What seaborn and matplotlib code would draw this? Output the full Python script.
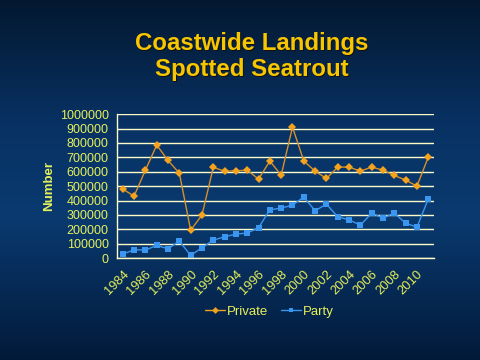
import numpy as np
import pandas as pd
import matplotlib
matplotlib.use("Agg")
import matplotlib.pyplot as plt
from matplotlib.colors import LinearSegmentedColormap
import seaborn as sns

# data
years = list(range(1984, 2012))
private = [479000, 431000, 611000, 785000, 678000, 590000, 194000, 299000,
           630000, 604000, 606000, 611000, 549000, 674000, 576000, 910000,
           674000, 604000, 553000, 632000, 632000, 604000, 632000, 611000,
           574000, 542000, 500000, 701000]
party = [28000, 58000, 56000, 88000, 65000, 118000, 19000, 72000,
         125000, 148000, 167000, 174000, 211000, 336000, 347000, 368000,
         424000, 329000, 375000, 287000, 266000, 229000, 312000, 278000,
         312000, 243000, 215000, 410000]
series_names = ["Private", "Party"]

df = pd.DataFrame({"Year": years * 2,
                   "Number": private + party,
                   "Series": ["Private"] * len(years) + ["Party"] * len(years)})

sns.set_theme(style="white")
plt.rcParams['font.family'] = ['Liberation Sans', 'DejaVu Sans']

txt = "#e6f05a"
grid_c = "#fdfcc8"

fig = plt.figure(figsize=(4.8, 3.6), dpi=100)

# gradient background
bg = fig.add_axes([0, 0, 1, 1], zorder=-10)
cmap = LinearSegmentedColormap.from_list(
    "bg", [(0.0, "#031830"), (0.35, "#083264"), (0.6, "#0a3a70"), (1.0, "#021a3a")])
bg.imshow(np.linspace(0, 1, 256).reshape(-1, 1), aspect="auto", cmap=cmap,
          extent=[0, 1, 0, 1], origin="upper")
bg.axis("off")

# title with shadow
for dx, dy, c in [(0.003, -0.004, "#111111"), (0, 0, "#f7c600")]:
    fig.text(0.524 + dx, 0.88 + dy, "Coastwide Landings", ha="center", va="center",
             fontsize=17.3, fontweight="bold", color=c)
    fig.text(0.524 + dx, 0.807 + dy, "Spotted Seatrout", ha="center", va="center",
             fontsize=17.3, fontweight="bold", color=c)

ax = fig.add_axes([0.244, 0.283, 0.66, 0.4])
ax.patch.set_alpha(0)

sns.lineplot(data=df, x="Year", y="Number", hue="Series", style="Series",
             hue_order=series_names, style_order=series_names,
             palette={"Private": "#f0a020", "Party": "#3a96f0"},
             markers={"Private": "D", "Party": "s"}, dashes=False,
             markersize=5, linewidth=1, markeredgewidth=0, ax=ax)
ax.lines[0].set_markersize(4)
ax.lines[0].set_color("#d8902a")
ax.lines[0].set_markerfacecolor("#f5a21e")

ax.set_xlim(1983.5, 2011.5)
ax.set_ylim(0, 1000000)
ax.set_yticks(range(0, 1000001, 100000))
ax.set_yticklabels([str(v) for v in range(0, 1000001, 100000)])
ax.yaxis.grid(True, color=grid_c, linewidth=1)
ax.set_axisbelow(True)

ax.set_xticks(range(1984, 2012, 2))
ax.set_xticklabels([str(y) for y in range(1984, 2012, 2)], rotation=45,
                   ha="right", va="top", rotation_mode="anchor")
ax.set_xticks(np.arange(1983.5, 2012, 1), minor=True)
ax.tick_params(axis="x", which="major", length=0, pad=7, colors=txt, labelsize=9.3)
ax.tick_params(axis="x", which="minor", length=4, width=1, color=grid_c, direction="out")
ax.tick_params(axis="y", length=4, width=1, color=grid_c, colors=txt, labelsize=9, pad=2)
for lab in ax.get_yticklabels() + ax.get_xticklabels():
    lab.set_color(txt)

for s in ["top", "right"]:
    ax.spines[s].set_visible(False)
for s in ["left", "bottom"]:
    ax.spines[s].set_color(grid_c)
    ax.spines[s].set_linewidth(1)

ax.set_xlabel("")
ax.set_ylabel("Number", color=txt, fontweight="bold", fontsize=9.5, labelpad=3)

leg = ax.legend(loc="upper center", bbox_to_anchor=(0.48, -0.245), ncol=2, frameon=False,
                fontsize=9.5, handlelength=1.5, handletextpad=0.15, columnspacing=1.0)
for t in leg.get_texts():
    t.set_color(txt)
for h in leg.legend_handles:
    h.set_markersize(3.5)

fig.savefig("out.png", dpi=100)
